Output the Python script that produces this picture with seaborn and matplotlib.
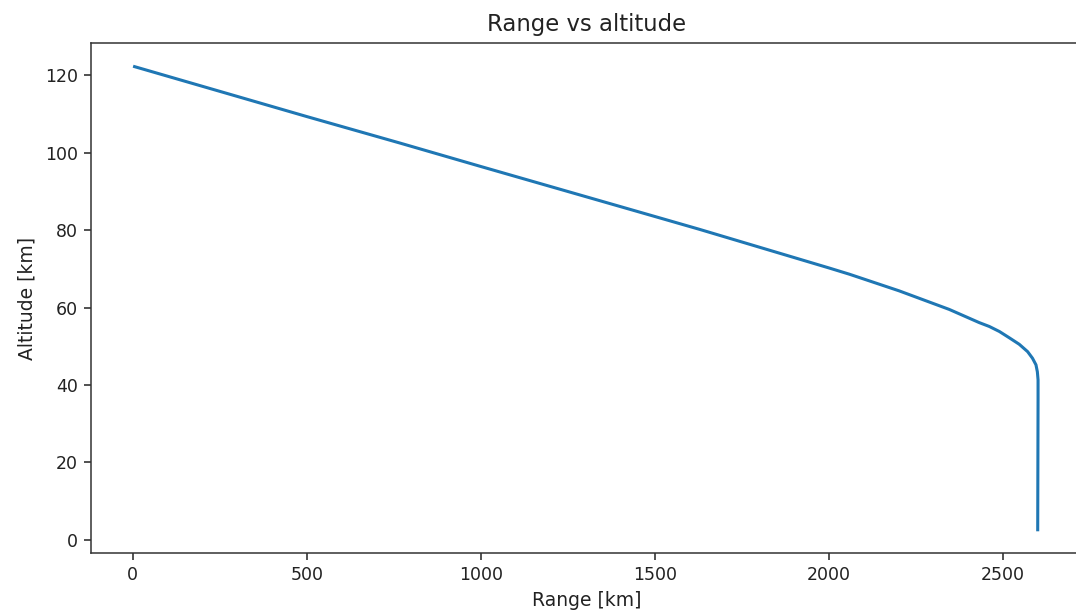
import matplotlib
matplotlib.use("Agg")
import matplotlib.pyplot as plt
import seaborn as sns
import pandas as pd

# Data
range_km = [5, 500, 766, 1000, 1484, 1627, 2000, 2058, 2201, 2345, 2431, 2460, 2489,
            2517, 2546, 2570, 2584, 2594, 2598, 2600, 2600, 2599]
altitude_km = [122.2, 109.3, 102.5, 96.4, 83.9, 80.2, 70.2, 68.6, 64.3, 59.5, 56.1, 55.1, 53.8,
               52.2, 50.5, 48.6, 46.9, 45.2, 43.4, 41.3, 36.1, 2.6]

title = "Range vs altitude"
xlabel = "Range [km]"
ylabel = "Altitude [km]"
xticks = [0, 500, 1000, 1500, 2000, 2500]
yticks = [0, 20, 40, 60, 80, 100, 120]

df = pd.DataFrame({"range": range_km, "altitude": altitude_km})

fig = plt.figure(figsize=(10.76, 6.12), dpi=100)
ax = fig.add_axes([0.0843, 0.0964, 0.9225, 0.8333])

sns.lineplot(data=df, x="range", y="altitude", sort=False, estimator=None,
             color="#1f77b4", linewidth=2.2, ax=ax)

ax.set_xlim(-121, 2730)
ax.set_ylim(-3.4, 128.3)
ax.set_title(title, fontsize=16.4, pad=9, color="#222222")
ax.set_xlabel(xlabel, fontsize=13.5, labelpad=5, color="#222222")
ax.set_ylabel(ylabel, fontsize=13.5, labelpad=6, color="#222222")
ax.set_xticks(xticks)
ax.set_yticks(yticks)
ax.tick_params(labelsize=12.5, length=4.8, width=1.1, pad=4.5, colors="#222222")
for s in ax.spines.values():
    s.set_linewidth(1.1)
    s.set_color("#333333")

fig.savefig("out.png", dpi=100)
